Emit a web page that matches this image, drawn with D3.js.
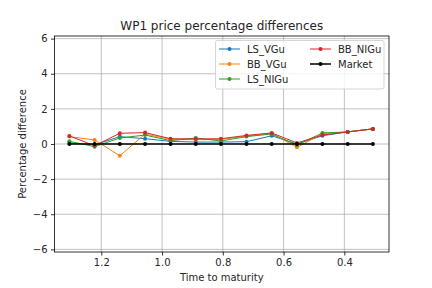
<!DOCTYPE html>
<html><head><meta charset="utf-8">
<script src="https://cdn.jsdelivr.net/npm/d3@7"></script>
<style>body{margin:0;background:#fff}svg{display:block}text{font-family:"DejaVu Sans",sans-serif;fill:#262626}</style>
</head><body><svg id="c" width="432" height="288"></svg>
<script>
const times = [1.305, 1.222, 1.139, 1.056, 0.972, 0.889, 0.806, 0.722, 0.639, 0.556, 0.472, 0.389, 0.306];
const LS_VGu  = [0.06, -0.05, 0.42, 0.30, 0.15, 0.11, 0.11, 0.13, 0.47, 0.00, 0.47, 0.69, 0.86];
const BB_VGu  = [0.42, 0.23, -0.67, 0.57, 0.26, 0.25, 0.26, 0.45, 0.60, -0.19, 0.58, 0.69, 0.86];
const LS_NIGu = [0.15, -0.15, 0.34, 0.51, 0.19, 0.34, 0.17, 0.42, 0.57, -0.06, 0.63, 0.69, 0.86];
const BB_NIGu = [0.46, -0.10, 0.61, 0.65, 0.30, 0.29, 0.30, 0.49, 0.63, 0.06, 0.51, 0.69, 0.86];
const Market  = [0, 0, 0, 0, 0, 0, 0, 0, 0, 0, 0, 0, 0];
const seriesNames = ["LS_VGu", "BB_VGu", "LS_NIGu", "BB_NIGu", "Market"];
const seriesVals = [LS_VGu, BB_VGu, LS_NIGu, BB_NIGu, Market];
const colors = ["#1f77b4", "#ff7f0e", "#2ca02c", "#d62728", "#000000"];
const xTicks = [1.2, 1.0, 0.8, 0.6, 0.4];
const yTicks = [-6, -4, -2, 0, 2, 4, 6];

const svg = d3.select("#c");
const L = 54.5, R = 389, T = 36, B = 252;
const x = d3.scaleLinear().domain([1.354, 0.253]).range([L, R]);
const y = d3.scaleLinear().domain([-6.15, 6.15]).range([B, T]);

// grid
const g = svg.append("g");
g.selectAll(".gx").data(xTicks).enter().append("line")
  .attr("x1", d => x(d)).attr("x2", d => x(d)).attr("y1", T).attr("y2", B)
  .attr("stroke", "#b0b0b0").attr("stroke-width", 0.8);
g.selectAll(".gy").data(yTicks).enter().append("line")
  .attr("y1", d => y(d)).attr("y2", d => y(d)).attr("x1", L).attr("x2", R)
  .attr("stroke", "#b0b0b0").attr("stroke-width", 0.8);

// series
seriesVals.forEach((vals, i) => {
  const pts = times.map((t, j) => [t, vals[j]]);
  const isM = i === 4;
  svg.append("path").datum(pts)
    .attr("d", d3.line().x(d => x(d[0])).y(d => y(d[1])))
    .attr("fill", "none").attr("stroke", colors[i]).attr("stroke-width", isM ? 1.5 : 1);
  svg.append("g").selectAll("circle").data(pts).enter().append("circle")
    .attr("cx", d => x(d[0])).attr("cy", d => y(d[1])).attr("r", 2)
    .attr("fill", colors[i]);
});

// axes
const xa = svg.append("g").attr("transform", `translate(0,${B})`)
  .call(d3.axisBottom(x).tickValues(xTicks).tickFormat(d3.format(".1f")).tickSize(3.5).tickPadding(3.5));
const ya = svg.append("g").attr("transform", `translate(${L},0)`)
  .call(d3.axisLeft(y).tickValues(yTicks).tickFormat(d => d < 0 ? "\u2212" + Math.abs(d) : d).tickSize(3.5).tickPadding(3.5));
[xa, ya].forEach(a => {
  a.select(".domain").remove();
  a.selectAll("line").attr("stroke", "#000").attr("stroke-width", 0.8);
  a.selectAll("text").attr("font-size", 10).attr("fill", "#262626").style("font-family", "DejaVu Sans");
});
svg.append("rect").attr("x", L).attr("y", T).attr("width", R - L).attr("height", B - T)
  .attr("fill", "none").attr("stroke", "#000").attr("stroke-width", 0.8);

// labels
svg.append("text").attr("x", (L + R) / 2).attr("y", 29.5).attr("text-anchor", "middle")
  .attr("font-size", 12).text("WP1 price percentage differences");
svg.append("text").attr("x", (L + R) / 2).attr("y", 281).attr("text-anchor", "middle")
  .attr("font-size", 10).text("Time to maturity");
svg.append("text").attr("transform", `translate(25.5,${(T + B) / 2}) rotate(-90)`).attr("text-anchor", "middle")
  .attr("font-size", 10).text("Percentage difference");

// legend
const lg = svg.append("g");
lg.append("rect").attr("x", 215.5).attr("y", 40.5).attr("width", 168.5).attr("height", 48.5).attr("rx", 2)
  .attr("fill", "#fff").attr("fill-opacity", 0.8).attr("stroke", "#cccccc").attr("stroke-width", 0.8);
const pos = [[219, 49], [219, 64], [219, 79], [310, 49], [310, 64]];
seriesNames.forEach((n, i) => {
  const [px, py] = pos[i];
  lg.append("line").attr("x1", px).attr("x2", px + 21).attr("y1", py).attr("y2", py)
    .attr("stroke", colors[i]).attr("stroke-width", i === 4 ? 1.5 : 1);
  lg.append("circle").attr("cx", px + 10.5).attr("cy", py).attr("r", 2).attr("fill", colors[i]);
  lg.append("text").attr("x", px + 28).attr("y", py + 3.6).attr("font-size", 10).text(n);
});
</script></body></html>
